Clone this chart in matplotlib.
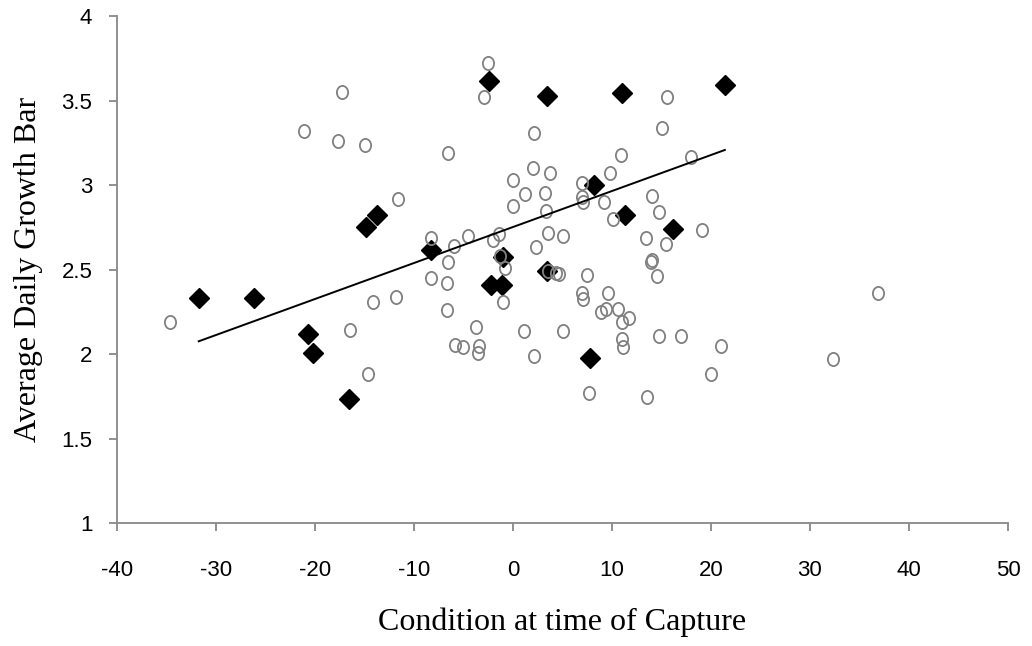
import matplotlib
matplotlib.use('Agg')
import matplotlib.pyplot as plt
import numpy as np
from matplotlib.path import Path
from matplotlib.transforms import Affine2D

# fish caught in other conditions (open markers)
other_x = [-17.3, -21.1, -17.7, -15.0, -6.6, -11.6, -8.3, -8.3, -6.6, -6.65,
           -11.8, -34.6, -16.45, -14.6, -14.1, -6.65, -2.53, -2.93, 15.6, 2.1,
           15.1, 10.9, 18.0, 2.0, 3.7, 9.8, 0.0, 7.0, 1.24, 3.2,
           7.0, 7.1, 9.2, 14.0, 0.0, 3.3, 14.7, 10.1, 19.1, 3.5,
           5.1, -4.5, 13.4, -1.4, -2.05, -5.97, 15.5, 2.3, -1.3, -0.84,
           14.0, 13.9, 14.5, 3.5, 4.65, 4.3, 7.45, 6.95, 9.6, -3.74,
           -5.9, -5.0, -3.4, -3.5, -1.04, 1.08, 2.1, 5.1, 7.1, 10.6,
           8.9, 9.4, 11.7, 11.05, 11.05, 11.15, 7.7, 13.55, 14.7, 17.0,
           21.0, 20.0, 36.9, 32.3]
other_y = [3.55, 3.32, 3.26, 3.24, 3.19, 2.92, 2.69, 2.45, 2.545, 2.42,
           2.34, 2.19, 2.145, 1.885, 2.31, 2.26, 3.72, 3.52, 3.52, 3.31,
           3.34, 3.18, 3.165, 3.10, 3.07, 3.07, 3.03, 3.01, 2.945, 2.955,
           2.93, 2.90, 2.90, 2.935, 2.875, 2.845, 2.84, 2.80, 2.735, 2.72,
           2.70, 2.70, 2.685, 2.71, 2.675, 2.64, 2.65, 2.635, 2.58, 2.51,
           2.555, 2.545, 2.46, 2.49, 2.475, 2.48, 2.47, 2.36, 2.365, 2.16,
           2.055, 2.045, 2.05, 2.005, 2.31, 2.135, 1.99, 2.135, 2.325, 2.27,
           2.25, 2.27, 2.215, 2.19, 2.09, 2.04, 1.77, 1.745, 2.11, 2.11,
           2.05, 1.885, 2.365, 1.97]

# highlighted group (solid diamonds)
main_x = [-31.75, -26.2, -20.7, -20.25, -16.6, -13.7, -14.8, -8.26, -2.4, 3.47,
          11.0, 21.4, 8.16, 11.35, 16.2, -1.0, 3.47, -2.25, -1.1, 7.8]
main_y = [2.33, 2.33, 2.12, 2.01, 1.735, 2.825, 2.75, 2.615, 3.615, 3.53,
          3.545, 3.595, 3.0, 2.825, 2.74, 2.575, 2.49, 2.41, 2.41, 1.98]

xticks = [-40, -30, -20, -10, 0, 10, 20, 30, 40, 50]
yticks = [1, 1.5, 2, 2.5, 3, 3.5, 4]

fig = plt.figure(figsize=(10.32, 6.46), dpi=100)
ax = fig.add_axes([0.1134, 0.19, 0.8633, 0.785])

oval = Path.unit_circle().transformed(Affine2D().scale(0.85, 1.0))

ax.plot(main_x, main_y, linestyle='none', marker='D', markersize=10,
        markerfacecolor='black', markeredgecolor='black', zorder=2)
ax.plot(other_x, other_y, linestyle='none', marker=oval, markersize=9.5,
        markerfacecolor='none', markeredgecolor='#808080',
        markeredgewidth=1.3, zorder=3)

# linear trend of the highlighted group
slope, icpt = np.polyfit(main_x, main_y, 1)
tx = np.array([min(main_x), max(main_x)])
ax.plot(tx, slope * tx + icpt, color='black', linewidth=1.4, zorder=4)

ax.set_xlim(-40, 50)
ax.set_ylim(1, 4)
ax.set_xticks(xticks)
ax.set_yticks(yticks)
ax.set_xticklabels([str(v) for v in xticks])
ax.set_yticklabels(['%g' % v for v in yticks])

for s in ['top', 'right']:
    ax.spines[s].set_visible(False)
for s in ['left', 'bottom']:
    ax.spines[s].set_color('#888888')
    ax.spines[s].set_linewidth(1.3)
ax.tick_params(direction='out', length=5.8, width=1.3, color='#888888', pad=21)
ax.tick_params(axis='y', pad=12)
for lab in ax.get_xticklabels() + ax.get_yticklabels():
    lab.set_family(['Liberation Sans Narrow', 'Liberation Sans', 'DejaVu Sans'])
    lab.set_fontsize(16)

ax.set_xlabel('Condition at time of Capture', family='Liberation Serif',
              fontsize=23, labelpad=19)
ax.set_ylabel('Average Daily Growth Bar', family='Liberation Serif',
              fontsize=23, labelpad=13)

plt.savefig('out.png', dpi=100)
